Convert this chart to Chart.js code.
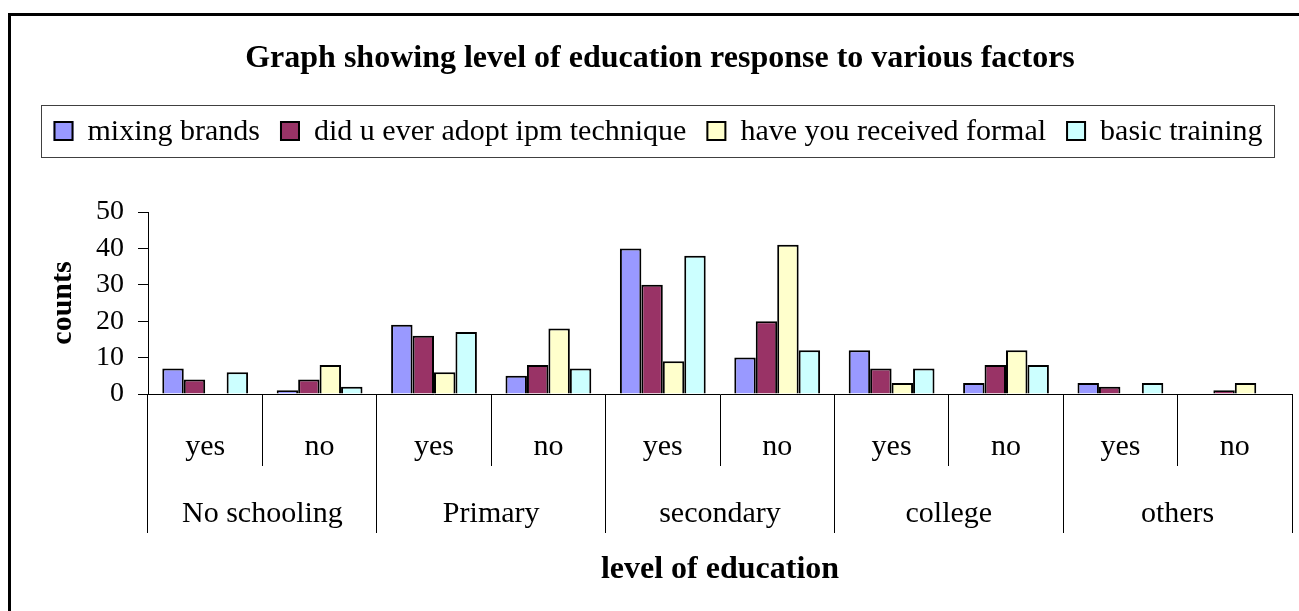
<!DOCTYPE html>
<html>
<head>
<meta charset="utf-8">
<script src="https://cdn.jsdelivr.net/npm/chart.js@4.4.1/dist/chart.umd.min.js"></script>
<style>
  html, body { margin: 0; padding: 0; background: #fff; overflow: hidden; }
  #frame { position: absolute; left: 8px; top: 13px; width: 1400px; height: 700px;
           border-left: 3px solid #000; border-top: 3px solid #000; }
  #c { position: absolute; left: 0; top: 0; }
</style>
</head>
<body>
<div id="frame"></div>
<canvas id="c" width="1299" height="611"></canvas>
<script>
const subCategories = ['yes','no','yes','no','yes','no','yes','no','yes','no'];
const groupLabels = ['No schooling','Primary','secondary','college','others'];
const seriesNames = ['mixing brands','did u ever adopt ipm technique','have you received formal','basic training'];
const mixingBrands   = [7, 1, 19, 5, 40, 10, 12, 3, 3, 0];
const adoptIpm       = [4, 4, 16, 8, 30, 20, 7, 8, 2, 1];
const receivedFormal = [0, 8, 6, 18, 9, 41, 3, 12, 0, 3];
const basicTraining  = [6, 2, 17, 7, 38, 12, 7, 8, 3, 0];
const yTicks = [0, 10, 20, 30, 40, 50];

const colors = ['#9999FF', '#993366', '#FFFFCC', '#CCFFFF'];
const FONT = '"Liberation Serif", "Times New Roman", serif';

const customLegend = {
  id: 'customLegend',
  afterDraw(chart, args, opts) {
    const ctx = chart.ctx;
    const items = chart.data.datasets.map(d => ({ text: d.label, color: d.backgroundColor }));
    ctx.save();
    ctx.font = opts.fontSize + 'px ' + FONT;
    const marker = opts.marker, gapText = opts.gapText, gapItem = opts.gapItem;
    let total = opts.padLeft + opts.padRight;
    items.forEach((it, i) => {
      it.w = ctx.measureText(it.text).width;
      total += marker + gapText + it.w + (i < items.length - 1 ? gapItem : 0);
    });
    const left = Math.round(opts.centerX - total / 2) + 0.5;
    const top = Math.round(opts.centerY - opts.height / 2) + 0.5;
    ctx.fillStyle = '#fff';
    ctx.fillRect(left, top, total, opts.height);
    ctx.strokeStyle = '#404040';
    ctx.lineWidth = 1;
    ctx.strokeRect(left, top, total, opts.height);
    let x = left + opts.padLeft;
    ctx.textBaseline = 'middle';
    ctx.textAlign = 'left';
    items.forEach(it => {
      ctx.fillStyle = it.color;
      ctx.fillRect(x, opts.centerY - marker / 2, marker, marker);
      ctx.strokeStyle = '#000';
      ctx.lineWidth = 2;
      ctx.strokeRect(x + 1, opts.centerY - marker / 2 + 1, marker - 2, marker - 2);
      x += marker + gapText;
      ctx.fillStyle = '#000';
      ctx.fillText(it.text, x, opts.centerY + 1);
      x += it.w + gapItem;
    });
    ctx.restore();
  }
};

const ds = (label, data, i) => ({
  label, data,
  backgroundColor: colors[i],
  borderColor: '#000',
  borderWidth: 2,
  categoryPercentage: 0.75,
  barPercentage: 1.0,
  xAxisID: 'x', yAxisID: 'y'
});

new Chart(document.getElementById('c'), {
  type: 'bar',
  data: {
    labels: subCategories,
    datasets: [
      ds(seriesNames[0], mixingBrands, 0),
      ds(seriesNames[1], adoptIpm, 1),
      ds(seriesNames[2], receivedFormal, 2),
      ds(seriesNames[3], basicTraining, 3)
    ]
  },
  plugins: [customLegend],
  options: {
    responsive: false,
    animation: false,
    devicePixelRatio: 1,
    layout: { padding: { left: 28, right: 7, top: 0, bottom: 21.8 } },
    plugins: {
      legend: { display: false },
      tooltip: { enabled: false },
      title: {
        display: true,
        text: 'Graph showing level of education response to various factors',
        color: '#000',
        font: { family: FONT, size: 32, weight: 'bold', lineHeight: 1.2 },
        padding: { top: 40, bottom: 133.6 }
      },
      customLegend: {
        fontSize: 30, marker: 20, gapText: 14, gapItem: 20,
        padLeft: 12, padRight: 12, centerX: 658, centerY: 131, height: 52
      }
    },
    scales: {
      x: {
        type: 'category',
        axis: 'x',
        position: { y: 0 },
        labels: subCategories,
        offset: true,
        grid: { display: true, offset: true, drawOnChartArea: false, drawTicks: true, tickLength: 71, color: '#000', lineWidth: 1 },
        border: { display: true, color: '#000', width: 1 },
        ticks: { color: '#000', font: { family: FONT, size: 30, lineHeight: 1.2 }, padding: -36, maxRotation: 0, autoSkip: false }
      },
      x2: {
        type: 'category',
        axis: 'x',
        position: { y: 0 },
        labels: groupLabels,
        offset: true,
        grid: { display: true, offset: true, drawOnChartArea: false, drawTicks: true, tickLength: 139, color: '#000', lineWidth: 1 },
        border: { display: false },
        ticks: { color: '#000', font: { family: FONT, size: 30, lineHeight: 1.2 }, padding: -37, maxRotation: 0, autoSkip: false }
      },
      x3: {
        type: 'category',
        axis: 'x',
        position: 'bottom',
        labels: groupLabels,
        grid: { display: false, drawTicks: false, tickLength: 0 },
        border: { display: false },
        ticks: { display: false },
        title: {
          display: true, text: 'level of education', color: '#000',
          font: { family: FONT, size: 32, weight: 'bold', lineHeight: 1.2 },
          padding: { top: 156.8, bottom: 0 }
        }
      },
      y: {
        min: 0, max: 50,
        afterBuildTicks: (axis) => { axis.ticks = yTicks.map(v => ({ value: v })); },
        grid: { display: true, drawOnChartArea: false, drawTicks: true, tickLength: 10, color: '#000', lineWidth: 1 },
        border: { display: true, color: '#000', width: 1 },
        ticks: { color: '#000', font: { family: FONT, size: 28, lineHeight: 1.2 }, padding: 14, autoSkip: false },
        title: {
          display: true, text: 'counts', color: '#000',
          font: { family: FONT, size: 30, weight: 'bold', lineHeight: 1.2 },
          padding: { top: 17, bottom: 1 }
        }
      }
    }
  }
});
</script>
</body>
</html>
